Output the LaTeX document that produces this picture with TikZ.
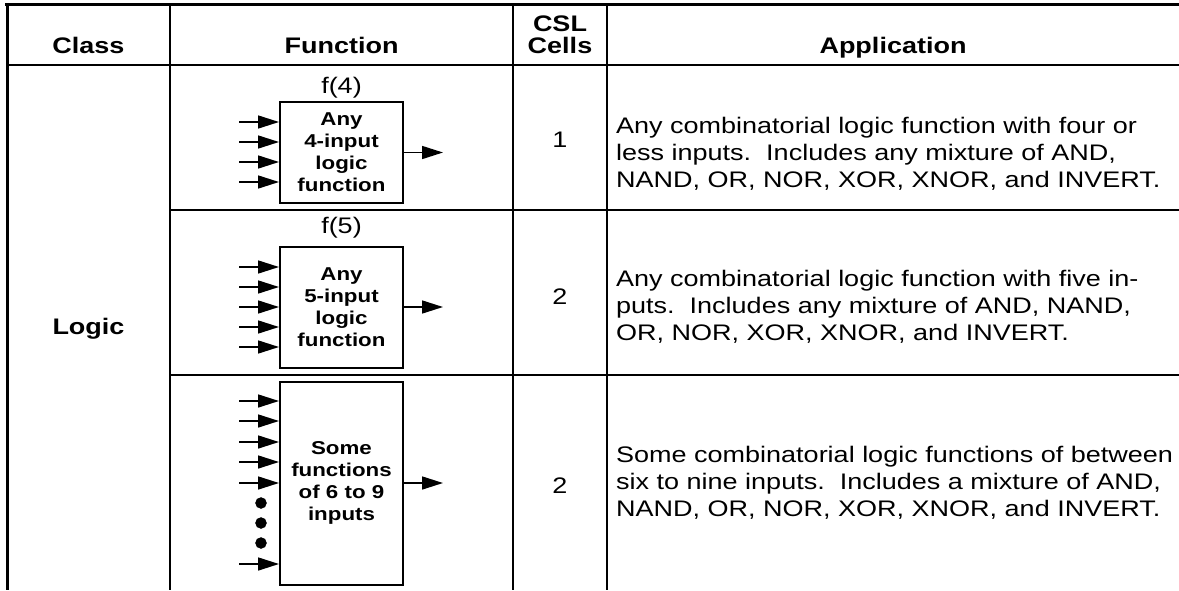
\documentclass[tikz,border=0pt]{standalone}
\usepackage{fontspec}
\setmainfont{Liberation Sans}[FakeStretch=1.2]
\usetikzlibrary{arrows.meta,positioning}

\begin{document}
\begin{tikzpicture}
[x=1pt,y=-1pt,>={Triangle[length=21pt,width=13pt]},
rule/.style = {line width=2pt},
fbox/.style = {draw, line width=2pt, minimum width=123pt, inner sep=0pt, align=center, font=\bfseries\fontsize{18.6}{22}\selectfont},
sig/.style = {->, line width=1.6pt},
txt/.style = {inner sep=0pt, font=\fontsize{22.5}{27}\selectfont},
hd/.style = {inner sep=0pt, anchor=base, align=center, font=\bfseries\fontsize{22.5}{22}\selectfont},
dot/.style = {draw, circle, fill = black, inner sep = 0pt, minimum size=11pt},]
\useasboundingbox (0,0) rectangle (1179,590);
\draw[line width=3pt] (5,4.5)--(1179,4.5);
\draw[line width=3pt] (7,3)--(7,590);
\draw[rule] (170,4.5)--(170,590);
\draw[rule] (513,4.5)--(513,590);
\draw[rule] (607,4.5)--(607,590);
\draw[rule] (7,65)--(1179,65);
\draw[rule] (170,210)--(1179,210);
\draw[rule] (170,375)--(1179,375);

\node (hclass) at (88.5,53)[hd] {Class};
\node (hfunc) at (341.5,53)[hd] {Function};
\node (hcsl) at (560,53)[hd] {CSL\\Cells};
\node (happ) at (893,53)[hd] {Application};
\node (logic) at (88.5,329)[txt,font=\bfseries\fontsize{22.5}{27}\selectfont] {Logic};

\node (f4) at (341.5,152.5)[fbox,minimum height=101pt] {Any\\4-input\\logic\\function};
\node (l4) at (341.5,88)[txt] {f(4)};
\node (f5) at (341.5,307.5)[fbox,minimum height=121pt] {Any\\5-input\\logic\\function};
\node (l5) at (341.5,228)[txt] {f(5)};
\node (f9) at (341.5,483.5)[fbox,minimum height=203pt,text depth=6pt] {Some\\functions\\of 6 to 9\\inputs};

\foreach \y [count=\i] in {122,142,162,182}
  {\coordinate (a\i) at (239,\y); \draw[sig] (a\i)--(a\i -| f4.west);}
\foreach \y [count=\i] in {267,287,307,327,347}
  {\coordinate (b\i) at (239,\y); \draw[sig] (b\i)--(b\i -| f5.west);}
\foreach \y [count=\i] in {401,421,442,462,483,564}
  {\coordinate (c\i) at (239,\y); \draw[sig] (c\i)--(c\i -| f9.west);}
\foreach \y [count=\i] in {503,523,543}
  \node (d\i) at (261,\y)[dot] {};

\coordinate (o4) at (443,152.5);
\coordinate (o5) at (443,307);
\coordinate (o9) at (443,483);
\draw[sig] (f4.east |- o4)--(o4);
\draw[sig] (f5.east |- o5)--(o5);
\draw[sig] (f9.east |- o9)--(o9);

\node (n1) at (560,140)[txt] {1};
\node (n2) at (560,297)[txt] {2};
\node (n3) at (560,486)[txt] {2};

\node (p1) at (616,154)[txt,anchor=west,align=left] {Any combinatorial logic function with four or\\less inputs.\ \ Includes any mixture of AND,\\NAND, OR, NOR, XOR, XNOR, and INVERT.};
\node (p2) at (616,307)[txt,anchor=west,align=left] {Any combinatorial logic function with five in-\\puts.\ \ Includes any mixture of AND, NAND,\\OR, NOR, XOR, XNOR, and INVERT.};
\node (p3) at (616,483)[txt,anchor=west,align=left] {Some combinatorial logic functions of between\\six to nine inputs.\ \ Includes a mixture of AND,\\NAND, OR, NOR, XOR, XNOR, and INVERT.};
\end{tikzpicture}
\end{document}
